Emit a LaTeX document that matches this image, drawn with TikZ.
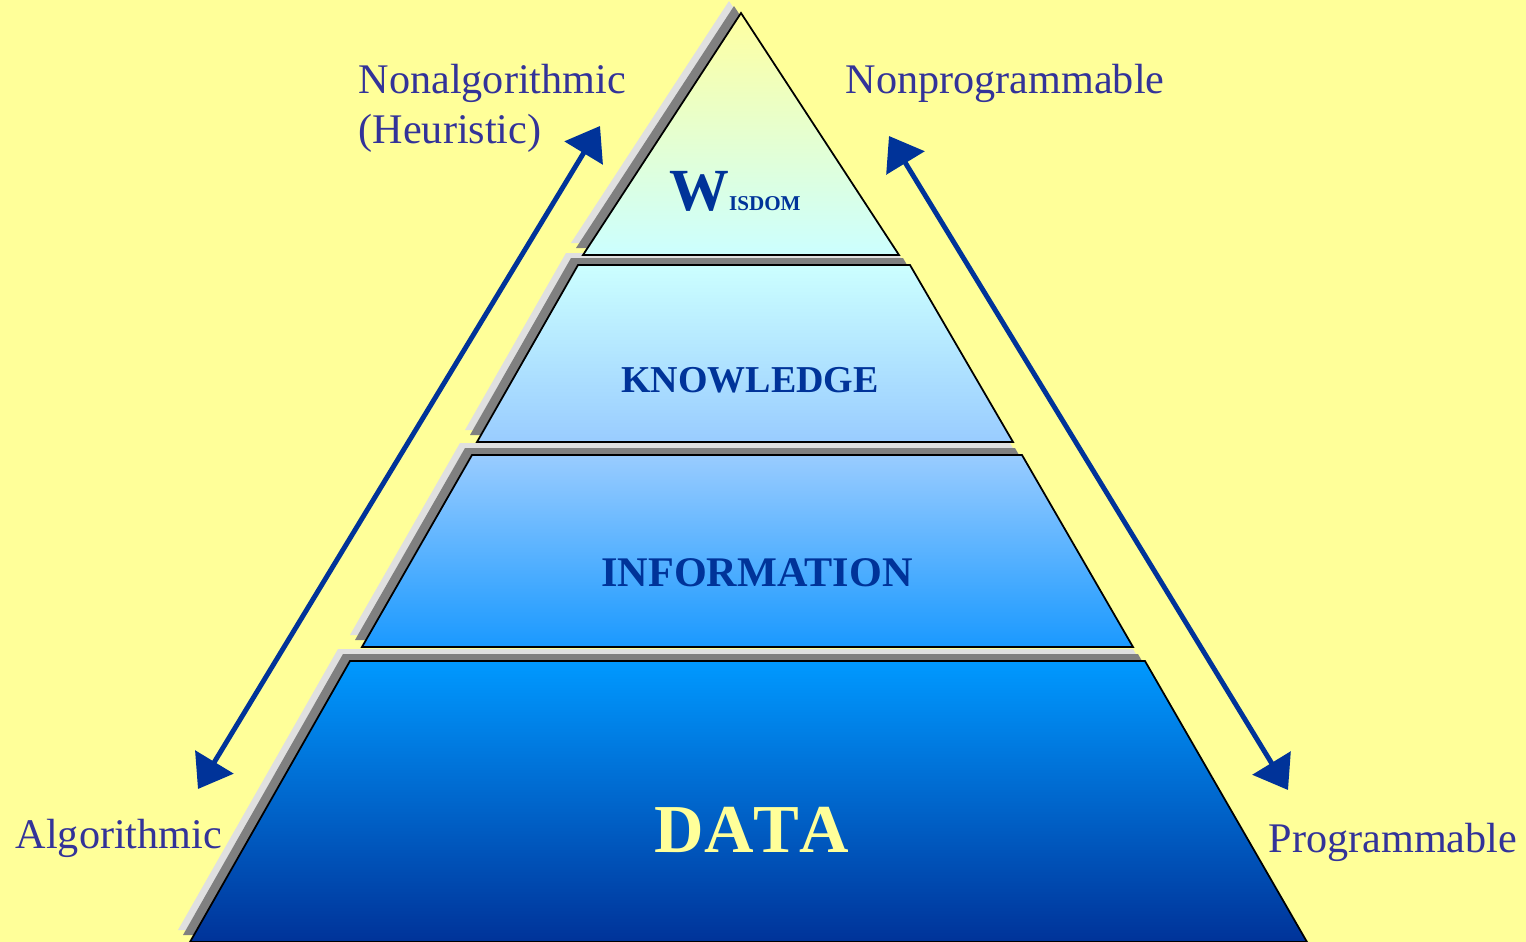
\documentclass[tikz,border=0pt]{standalone}
\usepackage{fontspec}
\setmainfont{Liberation Serif}
\usetikzlibrary{arrows.meta}

\definecolor{bgyellow}{HTML}{FFFF99}
\definecolor{labelblue}{HTML}{333399}
\definecolor{layerblue}{HTML}{003399}
\definecolor{datayellow}{HTML}{FFFF99}
\definecolor{shadowlight}{HTML}{E0E0E0}
\definecolor{shadowdark}{HTML}{808080}
\definecolor{apexyellow}{HTML}{FFFFA0}
\definecolor{palecyan}{HTML}{CCFFFF}
\definecolor{paleblue}{HTML}{99CCFF}
\definecolor{midblue}{HTML}{1A99FF}
\definecolor{brightblue}{HTML}{0099FF}
\definecolor{navyblue}{HTML}{003399}

\tikzset{
	sidelabel/.style={font=\fontsize{12}{14.2}\selectfont, text=labelblue, inner sep=0pt},
	layerlabel/.style={text=layerblue, inner sep=0pt, anchor=base},
	scalearrow/.style={layerblue, line width=1.4pt,
		{Triangle[length=9pt, width=12.5pt]}-{Triangle[length=9pt, width=12.5pt]}}
}

% one pyramid layer: path, top colour, bottom colour
\newcommand{\pyrlayer}[3]{%
	\fill[shadowlight, shift={(-12,-12)}] #1;
	\fill[shadowdark, shift={(-7,-7)}] #1;
	\shadedraw[top color=#2, bottom color=#3, draw=black, line width=0.5pt] #1;
}

\begin{document}
\begin{tikzpicture}[x=0.01cm, y=-0.01cm]
	\fill[bgyellow] (0,0) rectangle (1526,942);
	\useasboundingbox (0,0) rectangle (1526,942);
	% layers, bottom first
	\pyrlayer{(350,661) -- (1145,661) -- (1307,942) -- (190,942) -- cycle}{brightblue}{navyblue}
	\pyrlayer{(472,455) -- (1022,455) -- (1133,647) -- (362,647) -- cycle}{paleblue}{midblue}
	\pyrlayer{(578,265) -- (910,265) -- (1013,442) -- (477,442) -- cycle}{palecyan}{paleblue}
	\pyrlayer{(741,13) -- (899,255) -- (583,255) -- cycle}{apexyellow}{palecyan}
	%\draw[red] (0,0) grid[step=100] (1526,942);
	\node[layerlabel] (wisdom) at (735,210)
		{\fontsize{17}{17}\selectfont\bfseries W\fontsize{6}{6}\selectfont ISDOM};
	\node[layerlabel, font=\fontsize{10.8}{12}\selectfont\bfseries] (knowledge) at (750,392) {KNOWLEDGE};
	\node[layerlabel, font=\fontsize{12}{13}\selectfont\bfseries] (information) at (757,586) {INFORMATION};
	\node[layerlabel, font=\fontsize{19.5}{21}\selectfont\bfseries\addfontfeature{Kerning=Off},
		text=datayellow] (data) at (752,852) {DATA};
	% side labels
	\node[sidelabel, anchor=north west, align=left] (nonalg) at (358,64) {Nonalgorithmic\\(Heuristic)};
	\node[sidelabel, anchor=base west] (nonprog) at (845,93) {Nonprogrammable};
	\node[sidelabel, anchor=base west] (alg) at (15,848) {Algorithmic};
	\node[sidelabel, anchor=base west] (prog) at (1268,852) {Programmable};
	% scale arrows
	\coordinate (alglow) at (198,789);
	\coordinate (alghigh) at (600,126);
	\coordinate (proghigh) at (889,136);
	\coordinate (proglow) at (1288,790);
	\draw[scalearrow] (alglow) -- (alghigh);
	\draw[scalearrow] (proghigh) -- (proglow);
\end{tikzpicture}
\end{document}
